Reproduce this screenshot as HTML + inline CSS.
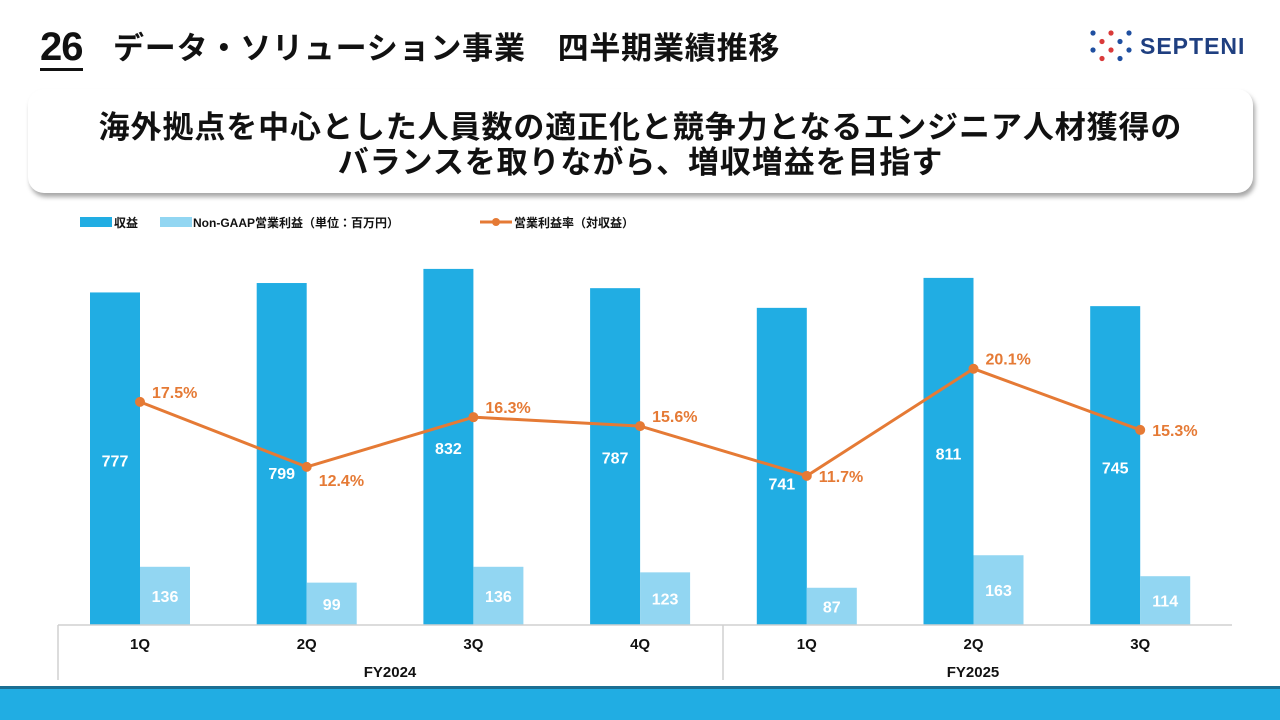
<!DOCTYPE html>
<html><head><meta charset="utf-8"><style>
body{margin:0;width:1280px;height:720px;overflow:hidden;background:#fff;font-family:"Liberation Sans","Noto Sans CJK JP",sans-serif;position:relative}
.abs{position:absolute}
</style></head><body>
<div class="abs" style="left:40px;top:26px;font-size:40px;font-weight:bold;color:#111;border-bottom:3px solid #111;line-height:42px;letter-spacing:-1px">26</div>
<div class="abs" style="left:113px;top:30px;font-size:31px;line-height:38px;font-weight:bold;color:#111;white-space:pre;letter-spacing:0.8px">データ・ソリューション事業　四半期業績推移</div>
<div class="abs" style="left:1090px;top:30px;width:180px;height:32px">
<svg width="45" height="32">
<g id="d"></g>
<script>
(function(){var g=document.getElementById('d');var cols=['#1f4fa0','#d93a3a'];for(var r=0;r<4;r++)for(var c=0;c<5;c++){if((r+c)%2)continue;var e=document.createElementNS('http://www.w3.org/2000/svg','circle');e.setAttribute('cx',3+c*9);e.setAttribute('cy',3+r*8.5);e.setAttribute('r',2.6);e.setAttribute('fill',cols[(r+c/2|0)%2]);g.appendChild(e);}})();
</script></svg>
<span style="position:absolute;left:50px;top:3px;font-size:23px;font-weight:bold;color:#1f3f80;letter-spacing:1px">SEPTENI</span></div>
<div class="abs" style="left:28px;top:89px;width:1225px;height:104px;border-radius:16px;background:#fff;box-shadow:2px 4px 5px rgba(0,0,0,0.35);text-align:center;font-size:31px;font-weight:bold;color:#111;line-height:35px;padding-top:21px;box-sizing:border-box;letter-spacing:0.9px">海外拠点を中心とした人員数の適正化と競争力となるエンジニア人材獲得の<br>バランスを取りながら、増収増益を目指す</div>
<svg class="abs" style="left:0;top:0" width="1280" height="720" id="chart">
<g font-weight="bold" font-size="12" fill="#111">
<rect x="80" y="217" width="32" height="10" fill="#21ade3"/>
<text x="114" y="227">収益</text>
<rect x="160" y="217" width="32" height="10" fill="#92d6f2"/>
<text x="193" y="227">Non-GAAP営業利益（単位：百万円）</text>
<line x1="480" y1="222" x2="512" y2="222" stroke="#e57a35" stroke-width="3"/><circle cx="496" cy="222" r="4" fill="#e57a35"/>
<text x="514" y="227">営業利益率（対収益）</text>
</g>
<g id="plot"></g>
<g stroke="#d0d0d0" stroke-width="1.5" fill="none">
<line x1="58" y1="625" x2="1232" y2="625"/><line x1="58" y1="625" x2="58" y2="680"/><line x1="723" y1="625" x2="723" y2="680"/>
</g>
<text x="390" y="677" text-anchor="middle" font-size="15" font-weight="bold" fill="#111">FY2024</text>
<text x="973" y="677" text-anchor="middle" font-size="15" font-weight="bold" fill="#111">FY2025</text>
<rect x="0" y="686" width="1280" height="4" fill="#1b6f93"/>
<rect x="0" y="689" width="1280" height="31" fill="#21ade3"/>
</svg>
<script>
const categories=['1Q','2Q','3Q','4Q','1Q','2Q','3Q'];
const revenue=[777,799,832,787,741,811,745];
const profit=[136,99,136,123,87,163,114];
const margin=[17.5,12.4,16.3,15.6,11.7,20.1,15.3];
const marginLabelPos=['up','down','up','up','right','up','right'];
const revLabelShift=[2,19,1,1,17,2,2];
const base=625,vs=0.428,ps=12.75,x0=140,step=166.7;
const X=i=>x0+i*step, Yv=v=>base-v*vs, Yp=p=>base-p*ps;
const NS='http://www.w3.org/2000/svg',g=document.getElementById('plot');
function mk(t,a,p){const e=document.createElementNS(NS,t);for(const k in a)e.setAttribute(k,a[k]);(p||g).appendChild(e);return e;}
categories.forEach((c,i)=>{
 const r=mk('rect',{x:X(i)-50,y:Yv(revenue[i]),width:50,height:revenue[i]*vs,fill:'#21ade3'});
 
 
 const p=mk('rect',{x:X(i),y:Yv(profit[i]),width:50,height:profit[i]*vs,fill:'#92d6f2'});
 
 
 const t1=mk('text',{x:X(i)-25,y:(Yv(revenue[i])+base)/2+6+revLabelShift[i],'text-anchor':'middle',fill:'#fff','font-size':16,'font-weight':'bold'});t1.textContent=revenue[i];
 
 
 const t2=mk('text',{x:X(i)+25,y:(Yv(profit[i])+base)/2+6,'text-anchor':'middle',fill:'#fff','font-size':16,'font-weight':'bold'});t2.textContent=profit[i];
 
 
 const t3=mk('text',{x:X(i),y:Yp(margin[i]),fill:'#e57a35','font-size':16,'font-weight':'bold'});t3.textContent=margin[i].toFixed(1)+'%';
 const pos=marginLabelPos[i];
 t3.setAttribute('x',X(i)+12);t3.setAttribute('y',Yp(margin[i])+(pos==='up'?-4:pos==='down'?19:6));
 
 
 const tc=mk('text',{x:X(i),y:649,'text-anchor':'middle',fill:'#111','font-size':15,'font-weight':'bold'});tc.textContent=c;
 
 
});
const line=mk('polyline',{points:margin.map((m,i)=>X(i)+','+Yp(m)).join(' '),fill:'none',stroke:'#e57a35','stroke-width':3});


margin.forEach((m,i)=>{const c=mk('circle',{cx:X(i),cy:Yp(m),r:5,fill:'#e57a35'});
 
 });
</script>
</body></html>
